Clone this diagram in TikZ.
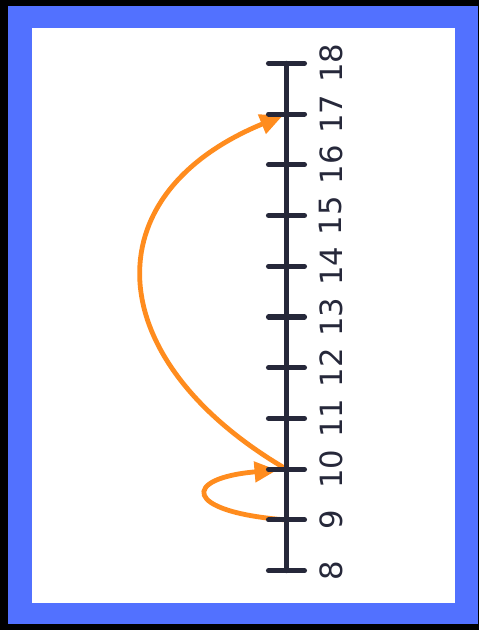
\documentclass[tikz,border=0pt]{standalone}
\usepackage{fontspec}
\newfontfamily\labelfont{DejaVu Sans}
\usetikzlibrary{arrows.meta}
\definecolor{frameblue}{RGB}{82,113,255}
\definecolor{linenavy}{RGB}{38,40,58}
\definecolor{jumporange}{RGB}{255,140,30}
\tikzset{
numline/.style={draw=linenavy, line width=3.8pt, line cap=round},
jump/.style={draw=jumporange, line width=3.6pt, line cap=round,
  -{Triangle[length=17pt,width=15pt]}},
numlabel/.style={rotate=90, inner sep=0pt, text=linenavy,
  font=\labelfont\fontsize{23}{28}\selectfont}}

\begin{document}
\begin{tikzpicture}[x=0.75pt,y=0.75pt,yscale=-1]
\useasboundingbox (0,0) rectangle (479,630);

%Frame
\fill[black] (0,0) rectangle (479,630);
\fill[frameblue] (8,6) rectangle (478,624);
\fill[white] (32,28) rectangle (455,603);

%Tick points and labels
\foreach \n in {8,...,18}{
  \pgfmathsetmacro{\yy}{570.7-(\n-8)*50.74}
  \coordinate (t\n) at (286.5,\yy);
  \node[numlabel] (l\n) at (331,\yy) {\n};
}

%Jumps
\draw[jump, shorten >=3pt] (t10) .. controls (100,360) and (90,195) .. (t17);
\draw[jump, shorten >=7pt] (t9) .. controls (182,512) and (182,478) .. (t10);

%Number line
\draw[numline] (t8) -- (t18);
\foreach \n in {8,...,18}{
  \draw[numline] ([xshift=-13.5pt]t\n) -- ([xshift=13.5pt]t\n);
}

\end{tikzpicture}
\end{document}
